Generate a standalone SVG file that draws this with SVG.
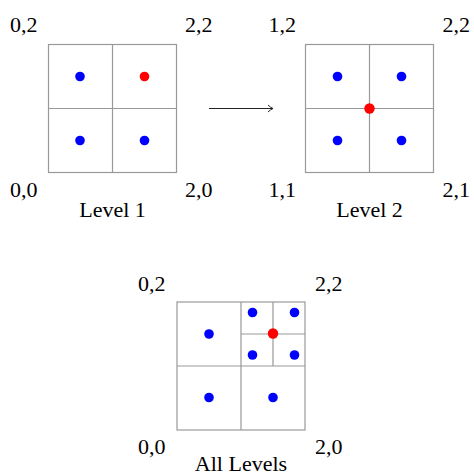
<svg xmlns="http://www.w3.org/2000/svg" width="474" height="475" viewBox="0 0 474 475">
<defs>
<style>
.grid{fill:none;stroke:#999;stroke-width:1.2}
.b{fill:#0000ff}
.r{fill:#ff0000}
.t{font-family:'Liberation Serif','DejaVu Serif',serif;font-size:22px;fill:#000}
.c{text-anchor:middle}
</style>
<marker id="to" markerWidth="10" markerHeight="10" refX="7" refY="5" orient="auto" markerUnits="userSpaceOnUse">
<path d="M2,1.5 Q4.5,4 7,5 Q4.5,6 2,8.5" fill="none" stroke="#222" stroke-width="1"/>
</marker>
</defs>
<rect width="474" height="475" fill="#fff"/>
<g id="level1">
<rect class="grid" x="48.5" y="44.5" width="128" height="128"/>
<path class="grid" d="M112.5,44.5V172.5M48.5,108.5H176.5"/>
<circle class="b" cx="80" cy="76.5" r="4.8"/>
<circle class="r" cx="144.5" cy="76.5" r="4.8"/>
<circle class="b" cx="80" cy="140.5" r="4.8"/>
<circle class="b" cx="144.5" cy="140.5" r="4.8"/>
<g class="t" font-family="Liberation Serif, DejaVu Serif, serif">
<text x="10" y="32">0,2</text>
<text x="185" y="32">2,2</text>
<text x="10" y="197">0,0</text>
<text x="185" y="197">2,0</text>
<text class="c" x="112.5" y="217">Level 1</text>
</g>
</g>
<g id="level2">
<rect class="grid" x="305.5" y="44.5" width="128" height="128"/>
<path class="grid" d="M369.5,44.5V172.5M305.5,108.5H433.5"/>
<circle class="b" cx="337.5" cy="76.5" r="4.8"/>
<circle class="b" cx="401.5" cy="76.5" r="4.8"/>
<circle class="b" cx="337.5" cy="140.5" r="4.8"/>
<circle class="b" cx="401.5" cy="140.5" r="4.8"/>
<circle class="r" cx="369.5" cy="108.5" r="5.2"/>
<g class="t" font-family="Liberation Serif, DejaVu Serif, serif">
<text x="268.5" y="32">1,2</text>
<text x="442.5" y="32">2,2</text>
<text x="268.5" y="197">1,1</text>
<text x="442.5" y="197">2,1</text>
<text class="c" x="369.5" y="217">Level 2</text>
</g>
</g>
<g id="all-levels">
<rect class="grid" x="177" y="302" width="128" height="128"/>
<path class="grid" d="M241,302V430M177,366H305M273,302V366M241,334H305"/>
<circle class="b" cx="209" cy="334" r="4.8"/>
<circle class="b" cx="209" cy="397.5" r="4.8"/>
<circle class="b" cx="273" cy="397.5" r="4.8"/>
<circle class="b" cx="252.5" cy="312.5" r="4.8"/>
<circle class="b" cx="294.5" cy="312.5" r="4.8"/>
<circle class="b" cx="252.5" cy="355" r="4.8"/>
<circle class="b" cx="294.5" cy="355" r="4.8"/>
<circle class="r" cx="273" cy="333.5" r="5.2"/>
<g class="t" font-family="Liberation Serif, DejaVu Serif, serif">
<text x="138" y="291">0,2</text>
<text x="315" y="291">2,2</text>
<text x="138" y="454">0,0</text>
<text x="315" y="454">2,0</text>
<text class="c" x="241" y="471">All Levels</text>
</g>
</g>
<g id="connectors">
<line x1="209" y1="108.5" x2="273" y2="108.5" stroke="#222" stroke-width="1.2" marker-end="url(#to)"/>
</g>
</svg>
